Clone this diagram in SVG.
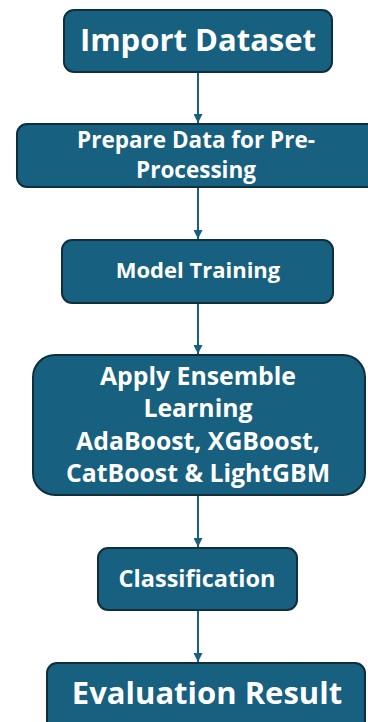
<svg xmlns="http://www.w3.org/2000/svg" width="368" height="722" viewBox="0 0 368 722">
  <defs>
    <style>
      .box { fill: #17607f; stroke: #0f2f3d; stroke-width: 2; }
      .lbl { fill: #ffffff; font-family: "Open Sans", "Liberation Sans", sans-serif; font-weight: 700; text-anchor: middle; }
      .edge { stroke: #17607f; stroke-width: 2; fill: none; marker-end: url(#head); }
    </style>
    <marker id="head" viewBox="0 0 10 10" refX="10" refY="5" markerWidth="4.5" markerHeight="4.5" orient="auto" markerUnits="strokeWidth">
      <path d="M0,0 L10,5 L0,10 z" fill="#17607f"/>
    </marker>
  </defs>
  <rect width="368" height="722" fill="#ffffff"/>

  <g id="connectors">
    <line class="edge" x1="198" y1="72" x2="198" y2="123"/>
    <line class="edge" x1="198" y1="187" x2="198" y2="239"/>
    <line class="edge" x1="198" y1="303" x2="198" y2="354"/>
    <line class="edge" x1="198" y1="495" x2="198" y2="547"/>
    <line class="edge" x1="198" y1="610" x2="198" y2="662"/>
  </g>

  <g id="import-dataset">
    <rect class="box" x="64" y="10" width="268" height="62" rx="10"/>
    <text class="lbl" x="198" y="51" font-size="31">Import Dataset</text>
  </g>

  <g id="prepare-data">
    <rect class="box" x="17" y="124" width="365" height="63" rx="10"/>
    <text class="lbl" x="196" y="148" font-size="22.5">Prepare Data for Pre-</text>
    <text class="lbl" x="196" y="178" font-size="22.5">Processing</text>
  </g>

  <g id="model-training">
    <rect class="box" x="62" y="240" width="271" height="63" rx="10"/>
    <text class="lbl" x="198" y="278" font-size="22">Model Training</text>
  </g>

  <g id="ensemble-learning">
    <rect class="box" x="33" y="355" width="332" height="140" rx="22"/>
    <text class="lbl" x="198" y="385" font-size="24.8">Apply Ensemble</text>
    <text class="lbl" x="198" y="417" font-size="24.8">Learning</text>
    <text class="lbl" x="198" y="450" font-size="24.8">AdaBoost, XGBoost,</text>
    <text class="lbl" x="198" y="482" font-size="24.8">CatBoost &amp; LightGBM</text>
  </g>

  <g id="classification">
    <rect class="box" x="98" y="548" width="199" height="62" rx="10"/>
    <text class="lbl" x="197" y="587" font-size="23.5">Classification</text>
  </g>

  <g id="evaluation-result">
    <rect class="box" x="47" y="663" width="318" height="70" rx="10"/>
    <text class="lbl" x="207" y="704" font-size="31">Evaluation Result</text>
  </g>
</svg>
